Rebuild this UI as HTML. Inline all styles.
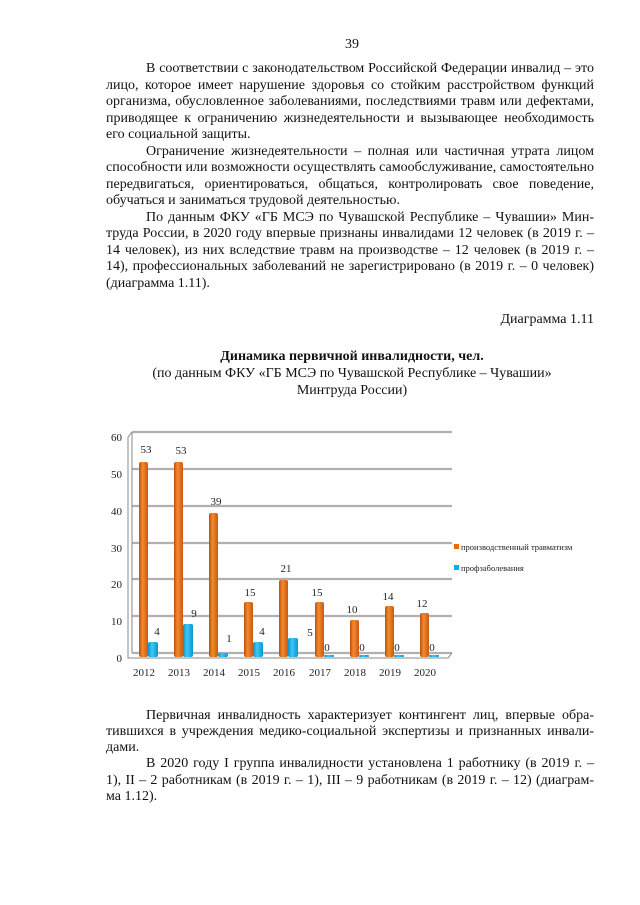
<!DOCTYPE html>
<html><head><meta charset="utf-8"><style>
body{margin:0;background:#fff;}
#p{position:relative;width:640px;height:905px;font-family:"Liberation Serif","DejaVu Serif",serif;font-size:14px;color:#111;}
.l{position:absolute;left:106px;width:488px;text-align:justify;text-align-last:justify;white-space:nowrap;line-height:16px;}
.n{text-align-last:left;}
.r{text-align:right;text-align-last:right;}
.i{text-indent:40px;}
.c{position:absolute;left:0;width:640px;text-align:center;line-height:16px;}
</style></head><body><div id="p">
<div class="c" style="top:37px;left:32px">39</div>
<div class="l i" style="top:61px">В соответствии с законодательством Российской Федерации инвалид – это</div>
<div class="l" style="top:78px">лицо, которое имеет нарушение здоровья со стойким расстройством функций</div>
<div class="l" style="top:94px">организма, обусловленное заболеваниями, последствиями травм или дефектами,</div>
<div class="l" style="top:111px">приводящее к ограничению жизнедеятельности и вызывающее необходимость</div>
<div class="l n" style="top:127px">его социальной защиты.</div>
<div class="l i" style="top:144px">Ограничение жизнедеятельности – полная или частичная утрата лицом</div>
<div class="l" style="top:160px">способности или возможности осуществлять самообслуживание, самостоятельно</div>
<div class="l" style="top:177px">передвигаться, ориентироваться, общаться, контролировать свое поведение,</div>
<div class="l n" style="top:193px">обучаться и заниматься трудовой деятельностью.</div>
<div class="l i" style="top:210px">По данным ФКУ «ГБ МСЭ по Чувашской Республике – Чувашии» Мин-</div>
<div class="l" style="top:226px">труда России, в 2020 году впервые признаны инвалидами 12 человек (в 2019 г. –</div>
<div class="l" style="top:243px">14 человек), из них вследствие травм на производстве – 12 человек (в 2019 г. –</div>
<div class="l" style="top:259px">14), профессиональных заболеваний не зарегистрировано (в 2019 г. – 0 человек)</div>
<div class="l n" style="top:276px">(диаграмма 1.11).</div>
<div class="l r" style="top:312px">Диаграмма 1.11</div>
<div class="c" style="top:349px;left:32px;font-weight:bold">Динамика первичной инвалидности, чел.</div>
<div class="c" style="top:366px;left:32px">(по данным ФКУ «ГБ МСЭ по Чувашской Республике – Чувашии»</div>
<div class="c" style="top:383px;left:32px">Минтруда России)</div>

<svg style="position:absolute;left:0;top:0" width="640" height="905" font-family="Liberation Serif, serif">
<defs>
<linearGradient id="o" x1="0" x2="1"><stop offset="0" stop-color="#c0510a"/><stop offset="0.4" stop-color="#f58a2e"/><stop offset="1" stop-color="#c85a10"/></linearGradient>
<linearGradient id="b" x1="0" x2="1"><stop offset="0" stop-color="#0a90cc"/><stop offset="0.4" stop-color="#3cc8f8"/><stop offset="1" stop-color="#0b95d0"/></linearGradient>
</defs>
<g stroke="#b0b0b0" stroke-width="2.2">
<line x1="132" y1="432" x2="452" y2="432"/><line x1="132" y1="469" x2="452" y2="469"/>
<line x1="132" y1="506" x2="452" y2="506"/><line x1="132" y1="543" x2="452" y2="543"/>
<line x1="132" y1="579" x2="452" y2="579"/><line x1="132" y1="616" x2="452" y2="616"/>
<line x1="132" y1="653" x2="452" y2="653"/>
</g>
<g stroke="#888" stroke-width="1" fill="none">
<polyline points="132,432 128,437 128,658 448,658 452,653"/>
<line x1="132" y1="432" x2="132" y2="653"/>
</g>
<g font-size="11" text-anchor="end" fill="#222">
<text x="122" y="441">60</text><text x="122" y="478">50</text><text x="122" y="515">40</text>
<text x="122" y="552">30</text><text x="122" y="588">20</text><text x="122" y="625">10</text><text x="122" y="662">0</text>
</g>
<g font-size="11" text-anchor="middle" fill="#222">
<text x="144" y="676">2012</text><text x="179" y="676">2013</text><text x="214" y="676">2014</text>
<text x="249" y="676">2015</text><text x="284" y="676">2016</text><text x="320" y="676">2017</text>
<text x="355" y="676">2018</text><text x="390" y="676">2019</text><text x="425" y="676">2020</text>
</g>
<g fill="url(#o)">
<rect x="139" y="462" width="9" height="195" rx="2"/>
<rect x="174" y="462" width="9" height="195" rx="2"/>
<rect x="209" y="513" width="9" height="144" rx="2"/>
<rect x="244" y="602" width="9" height="55" rx="2"/>
<rect x="279" y="580" width="9" height="77" rx="2"/>
<rect x="315" y="602" width="9" height="55" rx="2"/>
<rect x="350" y="620" width="9" height="37" rx="2"/>
<rect x="385" y="606" width="9" height="51" rx="2"/>
<rect x="420" y="613" width="9" height="44" rx="2"/>
</g>
<g fill="url(#b)">
<rect x="148" y="642" width="10" height="15" rx="2"/>
<rect x="183" y="624" width="10" height="33" rx="2"/>
<rect x="218" y="653" width="10" height="4" rx="2"/>
<rect x="253" y="642" width="10" height="15" rx="2"/>
<rect x="288" y="638" width="10" height="19" rx="2"/>
<rect x="324" y="655" width="10" height="2" rx="1"/>
<rect x="359" y="655" width="10" height="2" rx="1"/>
<rect x="394" y="655" width="10" height="2" rx="1"/>
<rect x="429" y="655" width="10" height="2" rx="1"/>
</g>
<g font-size="11" text-anchor="middle" fill="#222">
<text x="146" y="453">53</text><text x="181" y="454">53</text><text x="216" y="505">39</text>
<text x="250" y="596">15</text><text x="286" y="572">21</text><text x="317" y="596">15</text>
<text x="352" y="613">10</text><text x="388" y="600">14</text><text x="422" y="607">12</text>
<text x="157" y="635">4</text><text x="194" y="617">9</text><text x="229" y="642">1</text>
<text x="262" y="635">4</text><text x="310" y="636">5</text>
<text x="327" y="651">0</text><text x="362" y="651">0</text><text x="397" y="651">0</text><text x="432" y="651">0</text>
</g>
<rect x="454" y="544" width="5" height="5" fill="#e46c0a"/>
<rect x="454" y="565" width="5" height="5" fill="#00b0f0"/>
<g font-size="8.5" fill="#222">
<text x="461" y="550">производственный  травматизм</text>
<text x="461" y="571">профзаболевания</text>
</g>
</svg>

<div class="l i" style="top:708px">Первичная инвалидность характеризует контингент лиц, впервые обра-</div>
<div class="l" style="top:724px">тившихся в учреждения медико-социальной экспертизы и признанных инвали-</div>
<div class="l n" style="top:740px">дами.</div>
<div class="l i" style="top:756px">В 2020 году I группа инвалидности установлена 1 работнику (в 2019 г. –</div>
<div class="l" style="top:773px">1), II – 2 работникам (в 2019 г. – 1), III – 9 работникам (в 2019 г. – 12) (диаграм-</div>
<div class="l n" style="top:789px">ма 1.12).</div>
</div></body></html>
